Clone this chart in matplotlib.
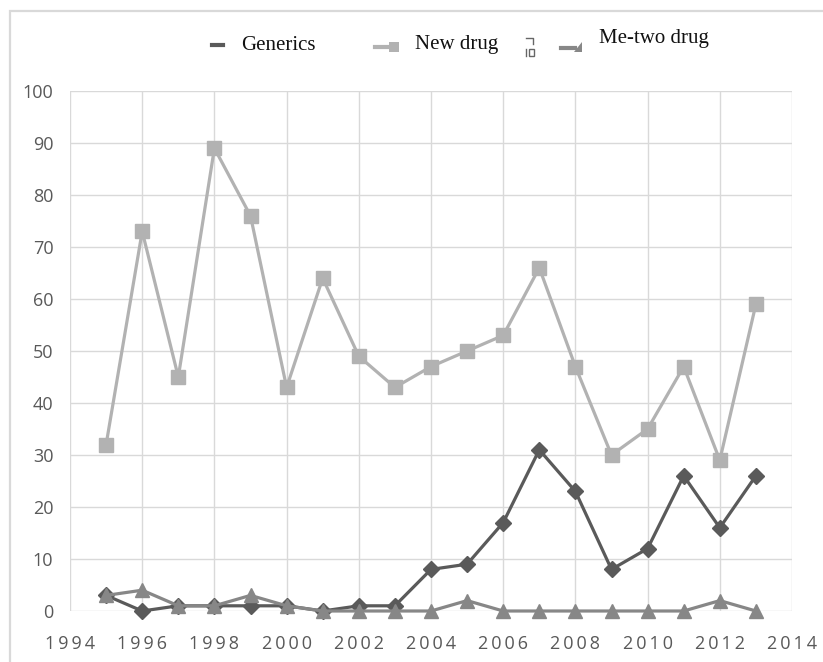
import matplotlib
matplotlib.use("Agg")
import matplotlib.pyplot as plt
from matplotlib.patches import Rectangle
from matplotlib.lines import Line2D
from matplotlib.ticker import FuncFormatter, MultipleLocator

years = [1995, 1996, 1997, 1998, 1999, 2000, 2001, 2002, 2003, 2004,
         2005, 2006, 2007, 2008, 2009, 2010, 2011, 2012, 2013]
new_drug = [32, 73, 45, 89, 76, 43, 64, 49, 43, 47, 50, 53, 66, 47, 30, 35, 47, 29, 59]
generics = [3, 0, 1, 1, 1, 1, 0, 1, 1, 8, 9, 17, 31, 23, 8, 12, 26, 16, 26]
me_two = [3, 4, 1, 1, 3, 1, 0, 0, 0, 0, 2, 0, 0, 0, 0, 0, 0, 2, 0]
series_labels = ["Generics", "New drug", "Me-two drug"]

C_NEW = "#b2b2b2"
C_GEN = "#5a5a5a"
C_ME = "#878787"
TICK_C = "#595959"
GRID_C = "#d9d9d9"

W, H = 823, 662
fig = plt.figure(figsize=(W / 100, H / 100), dpi=100)

def fx(px):
    return px / W

def fy(py):
    return 1 - py / H

# figure frame
fig.patches.append(Rectangle((fx(10), -0.1), 1.2, fy(11) + 0.1, transform=fig.transFigure,
                             fill=False, edgecolor="#d9d9d9", lw=1.6, zorder=0))

ax = fig.add_axes([fx(70), fy(611), fx(792) - fx(70), fy(91) - fy(611)])
ax.set_xlim(1994, 2014)
ax.set_ylim(0, 100)
ax.xaxis.set_major_locator(MultipleLocator(2))
ax.yaxis.set_major_locator(MultipleLocator(10))
ax.grid(True, color=GRID_C, lw=1.0)
ax.set_axisbelow(True)
for s in ax.spines.values():
    s.set_visible(False)
ax.tick_params(length=0, colors=TICK_C)
ax.tick_params(axis="y", pad=12)
ax.tick_params(axis="x", pad=17)
ax.xaxis.set_major_formatter(FuncFormatter(lambda v, p: "\u2009".join(str(int(round(v))))))
for lab in ax.get_xticklabels() + ax.get_yticklabels():
    lab.set_family(["Open Sans", "DejaVu Sans"])
    lab.set_fontsize(13)
    lab.set_color(TICK_C)

ax.plot(years, new_drug, color=C_NEW, lw=2.3, marker="s", ms=10, zorder=3, clip_on=False)
ax.plot(years, generics, color=C_GEN, lw=2.3, marker="D", ms=8, zorder=4, clip_on=False)
ax.plot(years, me_two, color=C_ME, lw=2.3, marker="^", ms=10, zorder=5, clip_on=False)

# legend (manual, as in reference)
serif = ["Liberation Serif", "DejaVu Serif"]
fs = 15
fig.lines.append(Line2D([fx(212), fx(223)], [fy(45), fy(45)], transform=fig.transFigure,
                        color=C_GEN, lw=3.0))
fig.text(fx(241), fy(45), series_labels[0], family=serif, fontsize=fs, va="center", ha="left", color="#111111")

fig.lines.append(Line2D([fx(375), fx(389)], [fy(47), fy(47)], transform=fig.transFigure,
                        color=C_NEW, lw=3.0))
fig.patches.append(Rectangle((fx(389), fy(52)), fx(399) - fx(389), fy(42) - fy(52),
                             transform=fig.transFigure, color=C_NEW, lw=0))
fig.text(fx(415), fy(45), series_labels[1], family=serif, fontsize=fs, va="center", ha="left", color="#111111")

# small stray glyph between legend entries
fig.lines.append(Line2D([fx(526), fx(533), fx(533)], [fy(38), fy(38), fy(44)], transform=fig.transFigure,
                        color="#666666", lw=1.0))
fig.lines.append(Line2D([fx(526), fx(526)], [fy(49), fy(56)], transform=fig.transFigure,
                        color="#666666", lw=1.0))
fig.patches.append(Rectangle((fx(529), fy(56)), fx(534) - fx(529), fy(49) - fy(56),
                             transform=fig.transFigure, fill=False, edgecolor="#666666", lw=1.0))

fig.lines.append(Line2D([fx(561), fx(575)], [fy(48), fy(48)], transform=fig.transFigure,
                        color=C_ME, lw=3.0))
fig.patches.append(plt.Polygon([[fx(574), fy(52)], [fx(582), fy(52)], [fx(582), fy(42)]],
                               closed=True, transform=fig.transFigure, color=C_ME, lw=0))
fig.text(fx(599), fy(39), series_labels[2], family=serif, fontsize=fs, va="center", ha="left", color="#111111")

fig.savefig("out.png", dpi=100)
